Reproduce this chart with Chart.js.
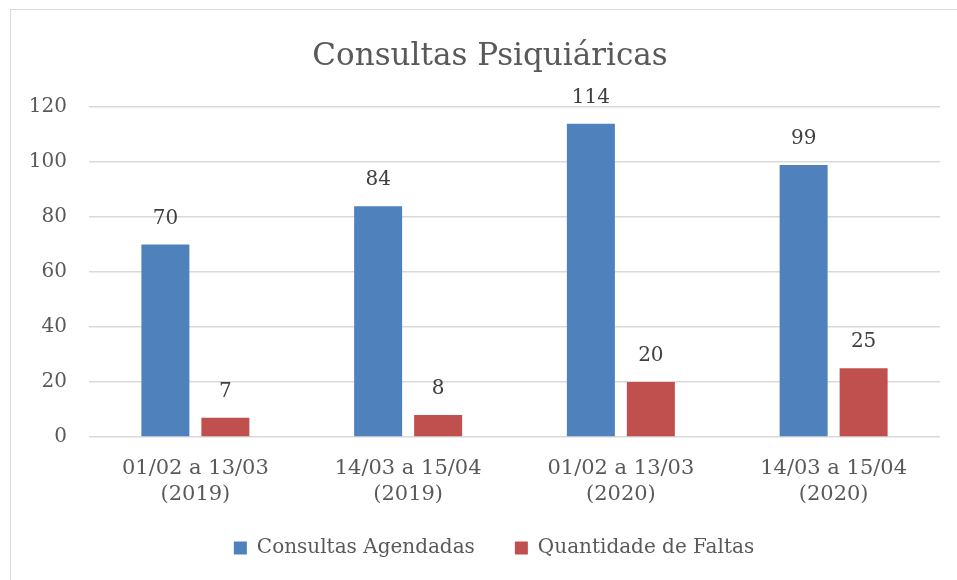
<!DOCTYPE html>
<html>
<head>
<meta charset="utf-8">
<script src="https://cdn.jsdelivr.net/npm/chart.js@4.4.1/dist/chart.umd.min.js"></script>
<style>
  html, body { margin: 0; padding: 0; background: #fff; }
  #wrap { position: relative; width: 957px; height: 580px; overflow: hidden; }
  #frame { position: absolute; left: 10px; top: 9px; width: 960px; height: 600px; border: 1px solid #d9d9d9; }
  canvas { position: absolute; left: 0; top: 0; }
</style>
</head>
<body>
<div id="wrap">
  <div id="frame"></div>
  <canvas id="chart" width="957" height="580"></canvas>
</div>
<script>
const categories = [
    ['01/02 a 13/03', '(2019)'],
    ['14/03 a 15/04', '(2019)'],
    ['01/02 a 13/03', '(2020)'],
    ['14/03 a 15/04', '(2020)'],
];
const agendadas = [70, 84, 114, 99];
const faltas = [7, 8, 20, 25];
const yTicks = [0, 20, 40, 60, 80, 100, 120];

const fontFamily = '"DejaVu Serif", serif';
const textColor = '#595959';
const legendGap = 40;

// draws the value above each bar
const valueLabels = {
    id: 'valueLabels',
    afterDatasetsDraw(chart) {
        const ctx = chart.ctx;
        ctx.save();
        ctx.font = '20px ' + fontFamily;
        ctx.fillStyle = '#404040';
        ctx.textAlign = 'center';
        ctx.textBaseline = 'middle';
        chart.data.datasets.forEach((ds, i) => {
            chart.getDatasetMeta(i).data.forEach((bar, j) => {
                ctx.fillText(ds.data[j], bar.x, bar.y - 26);
            });
        });
        ctx.restore();
    },
};

// nudge title and legend so they sit centred on the whole frame, like the original
const placeBlocks = {
    id: 'placeBlocks',
    afterLayout(chart) {
        const t = chart.titleBlock;
        t.left += 40;
        const l = chart.legend;
        const h = l.bottom - l.top;
        l.left += 48;
        l.top = 548 - legendGap - 10;
        l.bottom = l.top + h;
    },
};

const ctx = document.getElementById('chart');
const myChart = new Chart(ctx, {
    type: 'bar',
    data: {
        labels: categories,
        datasets: [
            {
                label: 'Consultas Agendadas',
                data: agendadas,
                backgroundColor: '#4f81bd',
            },
            {
                label: 'Quantidade de Faltas',
                data: faltas,
                backgroundColor: '#c0504d',
            },
        ],
    },
    options: {
        responsive: false,
        animation: false,
        categoryPercentage: 0.564,
        barPercentage: 0.8,
        layout: { padding: { left: 0, right: 17, top: 0, bottom: 0 } },
        plugins: {
            title: {
                display: true,
                text: 'Consultas Psiquiáricas',
                color: textColor,
                font: { family: fontFamily, size: 31, weight: 'normal' },
                padding: { top: 38, bottom: 32 },
            },
            legend: {
                position: 'bottom',
                labels: {
                    color: textColor,
                    font: { family: fontFamily, size: 20 },
                    boxWidth: 13,
                    boxHeight: 13,
                    padding: legendGap,
                },
            },
            tooltip: { enabled: false },
        },
        scales: {
            x: {
                grid: { display: false },
                border: { display: false },
                ticks: {
                    color: textColor,
                    font: { family: fontFamily, size: 21, lineHeight: 1.25 },
                    padding: 10,
                    maxRotation: 0,
                },
                afterFit(scale) { scale.height = 580 - 437 - scale.chart.legend.height; },
            },
            y: {
                min: 0,
                max: 120,
                afterBuildTicks(scale) { scale.ticks = yTicks.map((v) => ({ value: v })); },
                grid: { color: '#d9d9d9', lineWidth: 1.5, drawTicks: false },
                border: { display: false },
                ticks: {
                    color: textColor,
                    font: { family: fontFamily, size: 20 },
                    padding: 22,
                },
                afterFit(scale) { scale.width = 89; },
            },
        },
    },
    plugins: [valueLabels, placeBlocks],
});
</script>
</body>
</html>
